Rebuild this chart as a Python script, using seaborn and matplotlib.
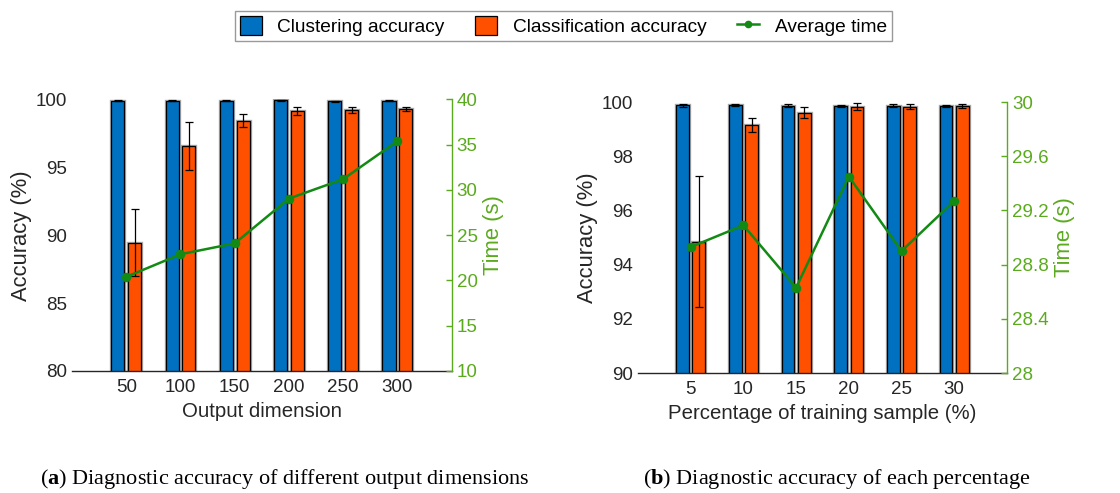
import numpy as np
import pandas as pd
import matplotlib
matplotlib.use("Agg")
import matplotlib.pyplot as plt
import matplotlib.patheffects as pe
from matplotlib.patches import Patch
from matplotlib.lines import Line2D
import seaborn as sns

# ---- data -------------------------------------------------------------
dims = ["50", "100", "150", "200", "250", "300"]
cluster_acc_a = [99.90, 99.92, 99.90, 99.95, 99.88, 99.90]
cluster_err_a = [0.04, 0.04, 0.04, 0.04, 0.04, 0.04]
class_acc_a = [89.45, 96.55, 98.45, 99.14, 99.25, 99.30]
class_err_a = [2.48, 1.77, 0.50, 0.30, 0.22, 0.12]
time_a = [20.4, 22.9, 24.1, 29.05, 31.2, 35.4]

pcts = ["5", "10", "15", "20", "25", "30"]
cluster_acc_b = [99.88, 99.89, 99.86, 99.84, 99.86, 99.85]
cluster_err_b = [0.05, 0.05, 0.05, 0.04, 0.05, 0.04]
class_acc_b = [94.84, 99.15, 99.60, 99.82, 99.83, 99.84]
class_err_b = [2.42, 0.27, 0.20, 0.13, 0.10, 0.07]
time_b = [28.93, 29.09, 28.63, 29.45, 28.90, 29.27]

series_names = ["Clustering accuracy", "Classification accuracy"]

BLUE = "#0070C0"
ORANGE = "#FF5000"
LINE_GREEN = "#138A13"
AXIS_GREEN = "#5AAA1E"
DARK = "#262626"

plt.rcParams["font.family"] = ["Liberation Sans", "DejaVu Sans"]
plt.rcParams["mathtext.fontset"] = "custom"
plt.rcParams["mathtext.rm"] = "Liberation Serif"
plt.rcParams["mathtext.bf"] = "Liberation Serif:bold"

fig = plt.figure(figsize=(11.2, 4.93), dpi=100)

bar_halo = [pe.Stroke(linewidth=2.4, foreground="#a8a8a8"), pe.Normal()]


def panel(rect, cats, cl_acc, cl_err, cf_acc, cf_err, times,
          ylim, yticks, tlim, tticks, tlabels, xlabel):
    ax = fig.add_axes(rect)
    df = pd.DataFrame({
        "cat": cats * 2,
        "acc": cl_acc + cf_acc,
        "series": [series_names[0]] * len(cats) + [series_names[1]] * len(cats),
    })
    sns.barplot(data=df, x="cat", y="acc", hue="series", order=cats,
                hue_order=series_names, palette=[BLUE, ORANGE], saturation=1,
                width=0.62, gap=0.22, edgecolor="black", linewidth=0.9,
                errorbar=None, legend=False, ax=ax)
    for p in ax.patches:
        p.set_path_effects(bar_halo)
    # error bars centred on each drawn bar
    for cont, errs in zip(ax.containers, [cl_err, cf_err]):
        xs = [p.get_x() + p.get_width() / 2 for p in cont]
        ys = [p.get_height() for p in cont]
        ax.errorbar(xs, ys, yerr=errs, fmt="none", ecolor="black",
                    elinewidth=0.9, capsize=3, capthick=0.9, zorder=5)
    ax.set_xlim(-1, len(cats))
    ax.set_ylim(*ylim)
    ax.set_yticks(yticks)
    ax.set_xlabel(xlabel, fontsize=14.7, color=DARK, labelpad=4)
    ax.set_ylabel("Accuracy (%)", fontsize=15.8, color=DARK, labelpad=3)
    ax.tick_params(axis="both", labelsize=13.5, colors=DARK, length=0)
    ax.tick_params(axis="x", pad=6)
    for s in ["top", "right", "left"]:
        ax.spines[s].set_visible(False)
    ax.spines["bottom"].set_color(DARK)
    ax.spines["bottom"].set_linewidth(1.0)
    ax.set_facecolor("white")

    ax2 = ax.twinx()
    sns.pointplot(x=cats, y=times, order=cats, color=LINE_GREEN, markers="o",
                  linestyles="-", markersize=5.5, linewidth=1.8, ax=ax2)
    ax2.set_xlim(-1, len(cats))
    ax2.set_ylim(*tlim)
    ax2.set_yticks(tticks)
    ax2.set_yticklabels(tlabels)
    ax2.set_ylabel("Time (s)", fontsize=15.8, color=AXIS_GREEN, labelpad=4)
    ax2.tick_params(axis="y", labelsize=13.5, colors=AXIS_GREEN,
                    direction="in", length=4, width=1.0)
    for s in ["top", "left", "bottom"]:
        ax2.spines[s].set_visible(False)
    ax2.spines["right"].set_color(AXIS_GREEN)
    ax2.spines["right"].set_linewidth(1.0)
    return ax, ax2


panel([0.0643, 0.2475, 0.339, 0.5507], dims, cluster_acc_a, cluster_err_a,
      class_acc_a, class_err_a, time_a,
      (80, 100), [80, 85, 90, 95, 100],
      (10, 40), [10, 15, 20, 25, 30, 35, 40],
      ["10", "15", "20", "25", "30", "35", "40"], "Output dimension")

panel([0.5696, 0.2434, 0.3295, 0.5497], pcts, cluster_acc_b, cluster_err_b,
      class_acc_b, class_err_b, time_b,
      (90, 100), [90, 92, 94, 96, 98, 100],
      (28, 30), [28, 28.4, 28.8, 29.2, 29.6, 30],
      ["28", "28.4", "28.8", "29.2", "29.6", "30"],
      "Percentage of training sample (%)")

handles = [
    Patch(facecolor=BLUE, edgecolor="black", linewidth=0.9),
    Patch(facecolor=ORANGE, edgecolor="black", linewidth=0.9),
    Line2D([0], [0], color=LINE_GREEN, lw=1.8, marker="o", markersize=4.5),
]
leg = fig.legend(handles, ["Clustering accuracy", "Classification accuracy",
                           "Average time"],
                 loc="center", bbox_to_anchor=(0.503, 0.947), ncol=3,
                 fontsize=13.8, frameon=True, fancybox=False,
                 edgecolor="#808080", handlelength=1.15, handleheight=1.15,
                 handletextpad=0.8, columnspacing=1.6, borderpad=0.25,
                 borderaxespad=0)
leg.get_frame().set_linewidth(1.0)
for t in leg.get_texts():
    t.set_color("black")

serif = ["Liberation Serif", "DejaVu Serif"]
fig.text(0.036, 0.018, r"($\mathbf{a}$) Diagnostic accuracy of different output dimensions",
         fontsize=16, family=serif, ha="left", va="baseline")
fig.text(0.574, 0.018, r"($\mathbf{b}$) Diagnostic accuracy of each percentage",
         fontsize=16, family=serif, ha="left", va="baseline")

fig.savefig("out.png", dpi=100, facecolor="white")
